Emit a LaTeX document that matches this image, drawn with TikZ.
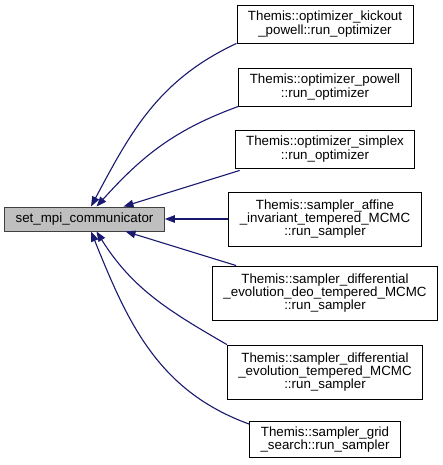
\documentclass[tikz,border=0pt]{standalone}
\usepackage{fontspec}
\setmainfont{Liberation Sans}
\usetikzlibrary{arrows.meta}
\definecolor{edgeblue}{HTML}{191970}
\definecolor{srcfill}{HTML}{BFBFBF}
\begin{document}
\begin{tikzpicture}[x=1pt,y=1pt,
  box/.style={draw=black, line width=0.9pt, fill=white, align=center,
    font=\fontsize{13.33}{13.2}\selectfont, inner xsep=11pt, inner ysep=3pt,
    minimum height=38pt},
  box3/.style={box, minimum height=54pt},
  srcbox/.style={box, fill=srcfill, draw=black!75, minimum width=159pt, minimum height=24pt},
  edge/.style={draw=edgeblue, line width=1.1pt, {Triangle[length=10pt,width=7.5pt]}-}
]
\useasboundingbox[fill=white] (0,0) rectangle (442,465);
\node[srcbox] (src) at (84.5,246) {set\_mpi\_communicator};
\node[box] (n1) at (325,441) {Themis::optimizer\_kickout\\\_powell::run\_optimizer};
\node[box] (n2) at (325,378) {Themis::optimizer\_powell\\::run\_optimizer};
\node[box] (n3) at (325,316) {Themis::optimizer\_simplex\\::run\_optimizer};
\node[box3] (n4) at (325,246) {Themis::sampler\_affine\\\_invariant\_tempered\_MCMC\\::run\_sampler};
\node[box3] (n5) at (325,172) {Themis::sampler\_differential\\\_evolution\_deo\_tempered\_MCMC\\::run\_sampler};
\node[box3] (n6) at (325,93) {Themis::sampler\_differential\\\_evolution\_tempered\_MCMC\\::run\_sampler};
\node[box, minimum height=36pt] (n7) at (325,25.5) {Themis::sampler\_grid\\\_search::run\_sampler};
\draw[edge] ([xshift=6.5pt]src.north) to[out=62,in=205] (n1.south west);
\draw[edge] ([xshift=12pt]src.north) to[out=48,in=200] (n2.south west);
\draw[edge] ([xshift=39pt]src.north) -- ([xshift=5pt,yshift=-2pt]n3.south west);
\draw[edge] (src.east) -- (n4.west);
\draw[edge] ([xshift=41pt]src.south) -- (n5);
\draw[edge] ([xshift=12pt]src.south) to[out=-58,in=150] (n6.north west);
\draw[edge] ([xshift=6.5pt]src.south) to[out=-68,in=160] ([yshift=-3pt]n7.north west);
\end{tikzpicture}
\end{document}
